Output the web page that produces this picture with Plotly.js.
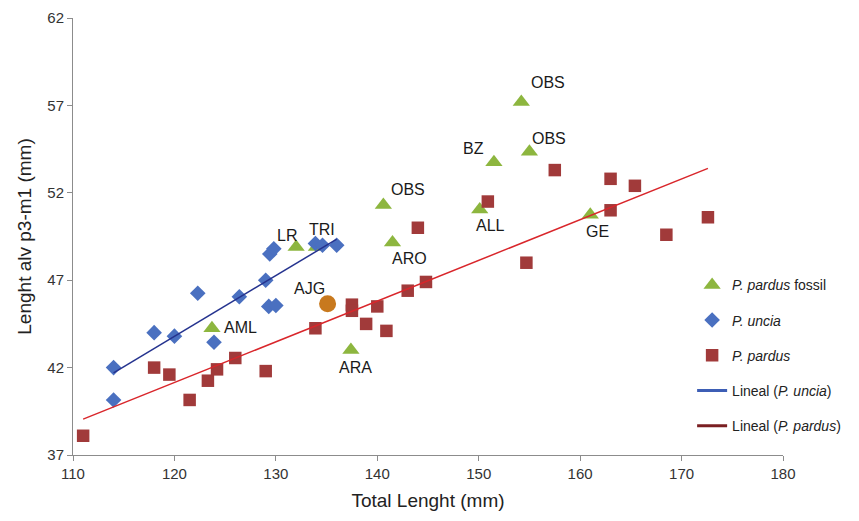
<!DOCTYPE html>
<html>
<head>
<meta charset="utf-8">
<script src="https://cdn.plot.ly/plotly-3.0.1.min.js"></script>
<style>html,body{margin:0;padding:0;background:#fff;}#chart{width:859px;height:521px;}</style>
</head>
<body>
<div id="chart"></div>
<script>
// P. uncia (blue diamonds)
const unciaX = [114, 114, 118, 120, 122.3, 123.9, 126.4, 129.0, 129.3, 130.0, 129.4, 129.8, 133.9, 134.6, 136.0];
const unciaY = [42.0, 40.15, 44.0, 43.8, 46.25, 43.45, 46.05, 47.0, 45.5, 45.55, 48.5, 48.8, 49.1, 49.0, 49.0];

// P. pardus (red squares)
const pardusX = [111.0, 118.0, 119.5, 121.5, 123.3, 124.2, 126.0, 129.0, 133.9, 137.5, 137.5, 138.9, 140.0, 140.9, 143.0, 144.8, 144.0, 150.9, 154.7, 157.5, 163.0, 165.4, 163.0, 168.5, 172.6];
const pardusY = [38.1, 42.0, 41.6, 40.15, 41.25, 41.9, 42.55, 41.8, 44.25, 45.6, 45.25, 44.5, 45.5, 44.1, 46.4, 46.9, 50.0, 51.5, 48.0, 53.3, 52.8, 52.4, 51.0, 49.6, 50.6];

// P. pardus fossil (green triangles) with labels
const fossilLabels = ["AML", "LR", "TRI", "ARA", "OBS", "ARO", "ALL", "BZ", "OBS", "OBS", "GE"];
const fossilX = [123.7, 132.0, 134.0, 137.4, 140.6, 141.5, 150.1, 151.5, 154.2, 155.0, 161.0];
const fossilY = [44.25, 48.9, 48.9, 43.0, 51.3, 49.15, 51.05, 53.75, 57.2, 54.35, 50.75];

// AJG specimen (orange)
const ajgLabel = ["AJG"];
const ajgX = [135.1];
const ajgY = [45.65];

// Linear trend lines (endpoints)
const unciaFitX = [114, 136];
const unciaFitY = [41.7, 49.35];
const pardusFitX = [111, 172.6];
const pardusFitY = [39.05, 53.4];

// Label placement offsets (px)
const fossilShiftX = [29, -9, 6, 5, 25, 17, 11, -20, 27, 20, 7];
const fossilShiftY = [1, 11, 17, -17, 16, -16, -16, 14, 19, 13, -17];

const green = "#8DB63F", blue = "#4A70C0", red = "#A13A3A", orange = "#C8791E";

const traces = [
  {x: fossilX, y: fossilY, mode: "markers", type: "scatter", name: "<i>P. pardus</i> fossil",
   legendgroup: "a", marker: {symbol: "triangle-up", size: 15, color: green}},
  {x: unciaX, y: unciaY, mode: "markers", type: "scatter", name: "<i>P. uncia</i>",
   legendgroup: "b", marker: {symbol: "diamond", size: 12, color: blue}},
  {x: pardusX, y: pardusY, mode: "markers", type: "scatter", name: "<i>P. pardus</i>",
   legendgroup: "c", marker: {symbol: "square", size: 12.5, color: red}},
  {x: unciaFitX, y: unciaFitY, mode: "lines", type: "scatter", name: "Lineal (<i>P. uncia</i>)",
   legendgroup: "d", line: {color: "#25338F", width: 1.5}, showlegend: false},
  {x: pardusFitX, y: pardusFitY, mode: "lines", type: "scatter", name: "Lineal (<i>P. pardus</i>)",
   legendgroup: "e", line: {color: "#D9262B", width: 1.5}, showlegend: false},
  {x: [null], y: [null], mode: "lines", type: "scatter", name: "Lineal (<i>P. uncia</i>)",
   legendgroup: "d", line: {color: "#3D5EB5", width: 3}},
  {x: [null], y: [null], mode: "lines", type: "scatter", name: "Lineal (<i>P. pardus</i>)",
   legendgroup: "e", line: {color: "#7A1F22", width: 3}},
  {x: ajgX, y: ajgY, mode: "markers", type: "scatter", name: "AJG", showlegend: false,
   marker: {symbol: "circle", size: 17, color: orange}}
];

const annotations = [];
fossilLabels.forEach((t, i) => {
  annotations.push({x: fossilX[i], y: fossilY[i], text: t, showarrow: false,
    xshift: fossilShiftX[i], yshift: fossilShiftY[i],
    font: {family: "Arial, Liberation Sans, sans-serif", size: 16, color: "#1a1a1a"}});
});
annotations.push({x: ajgX[0], y: ajgY[0], text: ajgLabel[0], showarrow: false,
  xshift: -18, yshift: 15,
  font: {family: "Arial, Liberation Sans, sans-serif", size: 16, color: "#1a1a1a"}});

const axisCommon = {
  showgrid: false, zeroline: false, showline: true, linecolor: "#8c8c8c", linewidth: 1,
  ticks: "outside", ticklen: 5, tickcolor: "#8c8c8c",
  tickfont: {family: "Arial, Liberation Sans, sans-serif", size: 15, color: "#333"}
};

const layout = {
  width: 859, height: 521,
  margin: {l: 73, r: 76, t: 18, b: 66},
  paper_bgcolor: "#fff", plot_bgcolor: "#fff",
  showlegend: true,
  legend: {x: 0.872, y: 0.425, xanchor: "left", yanchor: "top", tracegroupgap: 14,
    font: {family: "Arial, Liberation Sans, sans-serif", size: 14, color: "#222"},
    bgcolor: "rgba(255,255,255,0)"},
  xaxis: Object.assign({}, axisCommon, {range: [110, 180], tickvals: [110,120,130,140,150,160,170,180],
    title: {text: "Total Lenght (mm)", standoff: 12, font: {family: "Arial, Liberation Sans, sans-serif", size: 19, color: "#222"}}}),
  yaxis: Object.assign({}, axisCommon, {range: [37, 62], tickvals: [37,42,47,52,57,62],
    title: {text: "Lenght alv p3-m1 (mm)", standoff: 10, font: {family: "Arial, Liberation Sans, sans-serif", size: 19, color: "#222"}}}),
  annotations: annotations
};

Plotly.newPlot("chart", traces, layout, {displayModeBar: false, staticPlot: true});
</script>
</body>
</html>
